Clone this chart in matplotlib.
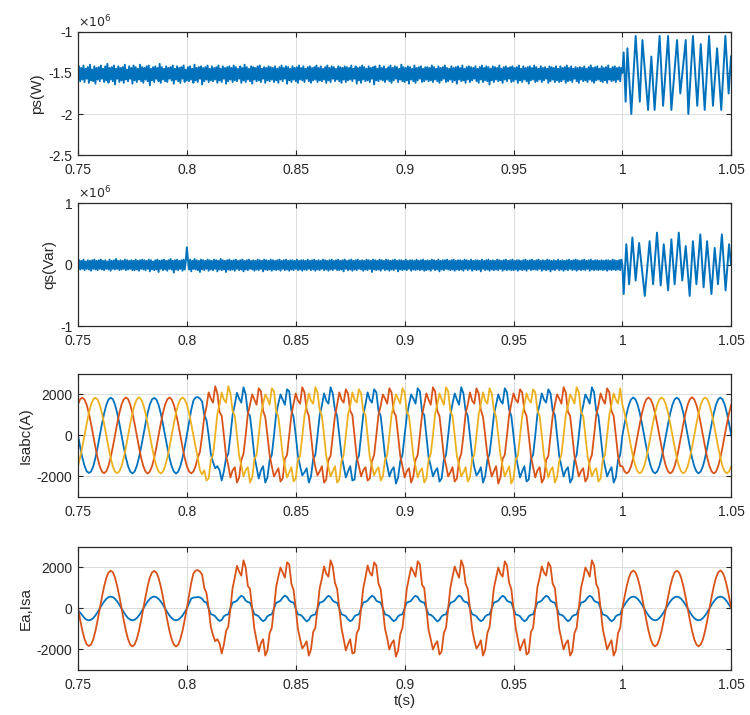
import numpy as np
import matplotlib
matplotlib.use("Agg")
import matplotlib.pyplot as plt

plt.rcParams['font.family'] = ['Liberation Sans', 'DejaVu Sans']

# ---------------- data ----------------
x_ticks = [0.75, 0.8, 0.85, 0.9, 0.95, 1.0, 1.05]
x_ticklabels = ['0.75', '0.8', '0.85', '0.9', '0.95', '1', '1.05']

# ps (units of 1e4 W), 0.5 ms samples from 0.75 s to 1.0 s
ps_pre = [
-151,-142,-160,-144,-158,-141,-161,-145,-157,-143,-162,-140,-159,-146,-160,-142,-163,-144,-158,-143,
-160,-141,-157,-145,-161,-142,-159,-139,-162,-144,-158,-143,-160,-141,-164,-145,-157,-142,-161,-144,
-159,-143,-162,-140,-158,-146,-160,-142,-157,-144,-163,-141,-159,-143,-161,-145,-158,-140,-160,-143,
-162,-144,-158,-142,-160,-141,-165,-145,-159,-143,-161,-142,-157,-144,-160,-139,-162,-143,-158,-145,
-160,-142,-161,-144,-157,-143,-159,-141,-163,-145,-158,-142,-160,-144,-162,-143,-157,-141,-161,-146,
-159,-143,-160,-142,-158,-145,-162,-140,-159,-144,-161,-143,-157,-142,-164,-144,-160,-143,-158,-141,
-161,-145,-159,-142,-160,-144,-158,-143,-162,-141,-159,-145,-161,-142,-157,-144,-163,-143,-160,-142,
-158,-144,-161,-141,-159,-143,-160,-145,-157,-142,-162,-144,-159,-140,-161,-143,-158,-145,-160,-142,
-163,-143,-158,-144,-160,-142,-159,-141,-161,-145,-157,-143,-162,-144,-159,-142,-160,-143,-158,-144,
-161,-142,-159,-145,-162,-143,-158,-141,-160,-144,-157,-142,-163,-143,-159,-145,-161,-142,-158,-144,
-160,-143,-162,-141,-158,-144,-159,-142,-161,-145,-157,-143,-160,-142,-162,-144,-159,-143,-158,-141,
-161,-144,-159,-142,-160,-145,-158,-143,-162,-141,-159,-144,-161,-142,-157,-143,-160,-145,-158,-142,
-160,-143,-162,-144,-158,-142,-161,-143,-159,-144,-158,-141,-160,-145,-157,-142,-163,-144,-159,-143,
-162,-141,-158,-143,-160,-145,-159,-142,-161,-144,-157,-143,-164,-142,-159,-145,-160,-141,-158,-144,
-159,-142,-161,-145,-158,-143,-160,-141,-162,-144,-159,-142,-157,-143,-161,-145,-158,-140,-160,-143,
-161,-144,-159,-142,-163,-143,-158,-145,-160,-141,-162,-144,-159,-143,-157,-142,-161,-145,-160,-143,
-158,-143,-160,-144,-159,-141,-161,-143,-158,-145,-160,-142,-162,-144,-159,-143,-157,-141,-161,-144,
-160,-145,-158,-142,-161,-144,-159,-143,-163,-142,-158,-144,-160,-141,-159,-145,-162,-143,-158,-142,
-161,-143,-159,-144,-157,-142,-160,-145,-162,-143,-158,-141,-161,-144,-159,-142,-160,-143,-164,-145,
-159,-142,-161,-143,-158,-144,-160,-141,-159,-145,-162,-143,-158,-142,-160,-144,-157,-143,-161,-142,
-160,-144,-158,-143,-162,-141,-159,-145,-161,-142,-158,-144,-160,-143,-163,-142,-159,-144,-158,-141,
-161,-143,-160,-145,-158,-142,-161,-144,-159,-143,-157,-145,-162,-142,-160,-143,-158,-144,-161,-142,
-159,-145,-161,-142,-160,-144,-158,-143,-162,-141,-160,-144,-159,-142,-161,-145,-157,-143,-160,-144,
-162,-143,-158,-144,-160,-142,-159,-145,-161,-143,-158,-141,-160,-144,-162,-143,-159,-142,-158,-145,
-160,-142,-161,-144,-159,-143,-162,-141,-158,-145,-160,-143,-159,-142,-161,-144,-158,-143,-160,-144,
-150]
# ps after 1.0 s: extremes (time in s, units of 1e4 W)
ps_post_t = [1.0006,1.0015,1.0023,1.0041,1.0061,1.0080,1.0092,1.0118,1.0133,1.0148,1.0171,1.0187,1.0210,1.0225,1.0251,
             1.0266,1.0291,1.0303,1.0324,1.0344,1.0360,1.0378,1.0398,1.0416,1.0435,1.0454,1.0473,1.0488,1.0499]
ps_post = [-125,-185,-120,-200,-105,-185,-110,-195,-130,-195,-105,-190,-105,-195,-110,
           -175,-110,-200,-105,-190,-115,-195,-105,-190,-120,-195,-105,-175,-130]

# qs (units of 1e4 Var), 0.5 ms samples from 0.75 s to 1.0 s
qs_pre = [
0,7,-8,6,-7,8,-9,5,-7,7,-8,6,-10,7,-7,8,-8,6,-9,7,
-7,8,-8,6,-9,7,-7,5,-8,8,-10,6,-7,7,-8,9,-7,6,-9,7,
-8,6,-7,8,-9,7,-8,6,-7,7,-9,6,-9,8,-8,6,-10,7,-7,8,
-8,7,-9,6,-7,8,-11,7,-8,5,-9,7,-8,8,-12,6,-7,7,-9,8,
-8,6,-10,7,-7,9,-8,6,-13,7,-8,8,-9,6,-7,7,-10,8,-8,6,
28,7,-8,8,-11,6,-7,9,-8,7,-9,6,-12,8,-8,7,-9,6,-7,8,
-10,7,-8,6,-9,8,-7,7,-11,6,-8,9,-9,7,-8,6,-12,7,-8,8,
-9,6,-8,7,-10,8,-7,6,-9,7,-8,8,-11,6,-8,7,-9,8,-7,6,
-8,7,-10,6,-8,8,-9,7,-7,6,-11,8,-8,7,-9,6,-8,8,-10,7,
-8,6,-9,7,-8,8,-10,6,-7,7,-9,8,-8,6,-10,7,-8,7,-9,6,
-7,8,-9,6,-8,7,-10,7,-8,6,-9,8,-7,6,-9,7,-8,8,-10,6,
-8,7,-9,6,-7,8,-9,7,-8,6,-10,7,-8,8,-9,6,-7,7,-9,8,
-9,6,-8,7,-11,8,-7,6,-9,7,-8,8,-10,6,-8,7,-9,8,-7,6,
-8,7,-10,6,-8,8,-9,7,-7,6,-12,8,-8,7,-9,6,-8,8,-10,7,
-7,6,-9,8,-8,7,-10,6,-8,7,-9,8,-7,6,-11,7,-8,7,-9,6,
-8,8,-9,6,-7,7,-10,7,-8,6,-9,8,-8,6,-9,7,-8,8,-10,6,
-9,7,-8,6,-10,8,-7,7,-9,6,-8,8,-11,6,-8,7,-9,7,-7,8,
-8,6,-9,7,-8,8,-10,6,-8,7,-9,7,-8,6,-10,8,-7,7,-9,6,
-7,8,-10,6,-8,7,-9,7,-8,6,-11,8,-7,6,-9,7,-8,8,-10,6,
-8,7,-9,6,-8,8,-9,7,-7,6,-10,7,-8,8,-9,6,-8,7,-9,8,
-9,6,-8,7,-10,7,-8,6,-9,7,-8,8,-10,6,-7,7,-9,8,-8,6,
-8,7,-9,8,-7,6,-10,7,-8,6,-9,8,-8,7,-11,6,-8,7,-9,6,
-7,8,-9,6,-8,7,-10,6,-8,7,-9,8,-7,6,-9,7,-8,8,-10,7,
-8,6,-9,7,-8,8,-9,6,-7,7,-10,8,-8,6,-9,7,-8,7,-9,6,
-8,7,-9,6,-8,7,-10,7,-8,6,-9,8,-8,7,-9,6,-8,7,-9,8,
0]
qs_post_t = [1.0006,1.0018,1.0031,1.0046,1.0061,1.0077,1.0103,1.0125,1.0141,1.0159,1.0176,1.0190,1.0210,1.0225,1.0240,
             1.0259,1.0275,1.0291,1.0309,1.0324,1.0340,1.0358,1.0373,1.0389,1.0409,1.0424,1.0439,1.0457,1.0474,1.0490,1.0499]
qs_post = [-48,33,-32,44,-26,35,-51,38,-32,52,-34,33,-42,41,-32,
           52,-26,30,-51,38,-32,49,-37,38,-48,27,-32,49,-42,33,0]

# stator currents (A), 1 ms samples from 0.75 s to 1.05 s
isa = [
0,-560,-1080,-1490,-1750,-1830,-1760,-1510,-1100,-580,-10,560,1080,1490,1750,1840,1770,1500,1090,580,
10,-570,-1090,-1500,-1770,-1850,-1760,-1490,-1080,-570,0,570,1100,1510,1760,1830,1750,1490,1080,560,
0,-570,-1090,-1500,-1760,-1860,-1770,-1500,-1090,-560,20,650,1250,1700,1850,1870,1800,1650,1000,750,
0,-900,-1300,-1600,-1500,-1700,-2200,-1750,-1100,-900,0,1000,1500,2080,1800,1600,2350,2000,1100,950,
0,-1000,-1550,-2100,-1700,-1500,-2300,-2050,-1200,-950,0,1050,1550,2000,1750,1500,2250,2150,1200,900,
0,-1000,-1500,-1950,-1800,-1600,-2300,-2000,-1150,-950,0,1000,1450,2050,1700,1550,2350,2050,1250,950,
0,-950,-1500,-2050,-1750,-1500,-2200,-2150,-1200,-1000,0,1000,1500,2100,1750,1600,2250,2100,1200,950,
0,-1000,-1450,-2000,-1700,-1550,-2350,-2050,-1250,-950,0,950,1500,2000,1800,1550,2300,2150,1150,1000,
0,-1050,-1500,-2000,-1750,-1600,-2250,-2100,-1200,-950,0,1000,1550,2050,1750,1500,2350,2050,1200,950,
0,-1000,-1550,-1950,-1800,-1550,-2300,-2000,-1200,-900,0,1000,1500,2000,1700,1550,2300,2100,1250,950,
0,-950,-1500,-2050,-1750,-1500,-2250,-2150,-1150,-950,0,1050,1500,2050,1750,1600,2250,2050,1200,1000,
0,-1000,-1500,-2000,-1700,-1550,-2300,-2100,-1200,-950,0,1000,1450,2000,1800,1550,2350,2100,1200,950,
0,-1000,-1500,-2000,-1750,-1550,-2300,-2050,-1200,-950,0,570,1090,1500,1760,1850,1760,1500,1090,570,
0,-570,-1090,-1500,-1760,-1850,-1760,-1500,-1090,-570,0,570,1090,1500,1760,1840,1760,1500,1090,570,
0,-570,-1090,-1500,-1760,-1850,-1760,-1500,-1090,-570,0,570,1090,1500,1760,1850,1760,1500,1090,570,
0]
isb = [
1520,1770,1840,1750,1490,1080,560,-10,-580,-1100,-1510,-1770,-1840,-1750,-1490,-1080,-560,10,580,1100,
1510,1760,1850,1770,1500,1090,570,0,-570,-1090,-1500,-1760,-1860,-1760,-1500,-1090,-570,0,570,1090,
1500,1760,1850,1760,1500,1090,570,0,-570,-1090,-1500,-1760,-1850,-1760,-1500,-1090,-800,0,900,1400,
2100,1800,1600,2400,2050,1150,950,0,-1000,-1450,-2050,-1700,-1550,-2300,-2050,-1200,-900,0,1050,1500,
2000,1750,1500,2300,2150,1200,900,0,-950,-1500,-2000,-1800,-1600,-2250,-2100,-1150,-950,0,1000,1550,
2050,1700,1550,2350,2100,1250,950,0,-1000,-1550,-1950,-1750,-1500,-2300,-2150,-1200,-1000,0,950,1500,
2100,1750,1600,2250,2050,1200,1000,0,-1050,-1500,-2000,-1700,-1550,-2200,-2100,-1250,-950,0,1000,1450,
2000,1800,1550,2300,2100,1150,950,0,-1000,-1500,-2050,-1750,-1600,-2300,-2000,-1200,-950,0,1000,1500,
2050,1750,1500,2350,2150,1200,950,0,-1000,-1450,-2000,-1800,-1550,-2250,-2100,-1200,-900,0,1050,1500,
2100,1700,1550,2300,2050,1250,900,0,-950,-1500,-2000,-1750,-1500,-2350,-2050,-1150,-950,0,1000,1550,
2050,1750,1600,2250,2100,1200,950,0,-1000,-1550,-2050,-1700,-1550,-2300,-2100,-1200,-1000,0,950,1500,
2000,1800,1550,2350,2100,1150,950,0,-1000,-1500,-2000,-1750,-1600,-2250,-2050,-1250,-950,0,1000,1450,
2050,1750,1550,2300,2100,1200,950,0,-1000,-1500,-1500,-1760,-1850,-1760,-1500,-1090,-570,0,570,1090,
1500,1760,1850,1760,1500,1090,570,0,-570,-1090,-1500,-1760,-1850,-1760,-1500,-1090,-570,0,570,1090,
1500,1770,1860,1760,1490,1090,570,0,-570,-1090,-1500,-1760,-1850,-1770,-1500,-1090,-570,0,570,1090,
1500]
isc = [
-1490,-1080,-560,10,580,1100,1510,1770,1840,1750,1490,1080,560,-10,-580,-1100,-1510,-1770,-1840,-1750,
-1500,-1090,-570,0,570,1090,1500,1760,1860,1760,1500,1090,570,0,-570,-1090,-1500,-1760,-1850,-1770,
-1500,-1090,-570,0,570,1090,1500,1760,1850,1760,1500,1090,570,0,-570,-1090,-1700,-1900,-1700,-2200,
-2100,-1200,-950,0,1050,1500,2100,1750,1600,2400,2050,1200,950,0,-1000,-1450,-2000,-1700,-1550,-2300,
-2050,-1150,-950,0,1000,1550,2000,1800,1500,2300,2150,1200,900,0,-950,-1500,-2050,-1800,-1550,-2250,
-2100,-1200,-1000,0,950,1500,2050,1700,1550,2350,2100,1250,950,0,-1000,-1550,-2000,-1750,-1500,-2300,
-2150,-1250,-950,0,1000,1450,2100,1750,1600,2250,2050,1200,1000,0,-1050,-1500,-1950,-1700,-1550,-2200,
-2000,-1200,-950,0,1000,1500,2000,1800,1550,2300,2100,1150,950,0,-1000,-1500,-2050,-1750,-1600,-2300,
-2100,-1200,-900,0,1050,1500,2050,1750,1500,2350,2150,1200,950,0,-1000,-1450,-2000,-1800,-1550,-2250,
-2050,-1150,-950,0,1000,1550,2100,1700,1550,2300,2050,1250,900,0,-950,-1500,-2000,-1750,-1500,-2350,
-2100,-1200,-1000,0,950,1500,2050,1750,1600,2250,2100,1200,950,0,-1000,-1550,-2050,-1700,-1550,-2300,
-2050,-1250,-950,0,1000,1450,2000,1800,1550,2350,2100,1150,950,0,-1000,-1500,-2000,-1750,-1600,-2250,
-2100,-1200,-950,0,1000,1500,2050,1750,1550,2300,1500,1090,570,0,-570,-1090,-1500,-1760,-1850,-1760,
-1500,-1090,-570,0,570,1090,1500,1760,1850,1760,1500,1090,570,0,-570,-1090,-1500,-1760,-1850,-1760,
-1500,-1090,-570,0,570,1090,1500,1760,1850,1770,1500,1090,570,0,-570,-1090,-1500,-1760,-1850,-1760,
-1500]
ea = [
-100,-200,-340,-470,-550,-580,-550,-470,-340,-180,0,180,340,470,550,580,550,470,340,180,
0,-180,-340,-470,-550,-580,-550,-470,-340,-180,0,180,340,470,550,580,550,470,340,180,
0,-180,-340,-470,-550,-580,-550,-470,-340,-180,0,250,480,530,540,560,540,470,330,290,
0,-280,-310,-380,-520,-610,-560,-380,-310,-290,0,290,320,380,520,620,560,380,310,290,
0,-290,-320,-390,-530,-620,-550,-380,-310,-290,0,280,320,380,530,630,560,390,310,290,
0,-290,-310,-380,-520,-630,-560,-370,-320,-290,0,290,310,380,520,620,550,380,310,280,
0,-280,-320,-380,-530,-620,-560,-380,-310,-290,0,290,320,390,520,620,560,380,320,290,
0,-290,-320,-380,-520,-620,-550,-380,-310,-280,0,290,320,380,530,620,560,380,310,290,
0,-290,-310,-390,-520,-630,-560,-380,-310,-290,0,280,310,380,520,630,560,370,310,290,
0,-280,-320,-380,-520,-620,-560,-390,-310,-290,0,290,320,380,520,620,550,380,320,290,
0,-290,-320,-380,-530,-620,-560,-380,-310,-290,0,290,320,390,520,620,560,380,310,280,
0,-290,-310,-380,-520,-620,-550,-380,-320,-290,0,290,310,380,530,620,560,380,310,290,
0,-290,-320,-380,-520,-620,-560,-380,-310,-290,0,180,340,470,550,580,550,470,340,180,
0,-180,-340,-470,-550,-580,-550,-470,-340,-180,0,180,340,470,550,580,550,470,340,180,
0,-180,-340,-470,-550,-580,-550,-470,-340,-180,0,180,340,470,550,580,550,470,340,180,
0]

# ---------------- plotting ----------------
BLUE, ORANGE, YELLOW = '#0072BD', '#D95319', '#EDB120'

t_cur = 0.75 + 0.001 * np.arange(len(isa))
t_ea = 0.75 + 0.001 * np.arange(len(ea))
t_isb = 0.75 + 0.001 * np.arange(len(isb))
t_isc = 0.75 + 0.001 * np.arange(len(isc))
t_ps = np.concatenate([0.75 + 0.0005 * np.arange(len(ps_pre)), ps_post_t])
t_qs = np.concatenate([0.75 + 0.0005 * np.arange(len(qs_pre)), qs_post_t])
ps_all = np.array(ps_pre + ps_post) / 100.0   # -> units of 1e6 W
qs_all = np.array(qs_pre + qs_post) / 100.0   # -> units of 1e6 Var

fig = plt.figure(figsize=(7.5, 7.15), dpi=100)
L, W = 0.104, 0.871
ax1 = fig.add_axes([L, 0.783, W, 0.1725])
ax2 = fig.add_axes([L, 0.544, W, 0.172])
ax3 = fig.add_axes([L, 0.305, W, 0.172])
ax4 = fig.add_axes([L, 0.063, W, 0.172])

TXT = '#262626'


def style(ax, ylim, yticks, yticklabels, ylabel):
    ax.set_xlim(0.75, 1.05)
    ax.set_xticks(x_ticks)
    ax.set_xticklabels(x_ticklabels)
    ax.set_ylim(*ylim)
    ax.set_yticks(yticks)
    ax.set_yticklabels(yticklabels)
    ax.grid(True, color='#dcdcdc', lw=0.7)
    ax.set_axisbelow(True)
    ax.tick_params(direction='in', top=True, right=True, length=3.5, width=0.8,
                   labelsize=10, colors=TXT)
    ax.tick_params(axis='x', pad=6)
    ax.tick_params(axis='y', pad=4)
    for s in ax.spines.values():
        s.set_color('#2a2a2a')
        s.set_linewidth(0.9)
    ax.set_ylabel(ylabel, fontsize=11, color=TXT, labelpad=3)


ax1.plot(t_ps, ps_all, color=BLUE, lw=1.4)
style(ax1, (-2.5, -1.0), [-2.5, -2, -1.5, -1], ['-2.5', '-2', '-1.5', '-1'], 'ps(W)')
ax1.text(0.0, 1.015, r'$\times10^{6}$', transform=ax1.transAxes, fontsize=9,
         color=TXT, ha='left', va='bottom')

ax2.plot(t_qs, qs_all, color=BLUE, lw=1.4)
style(ax2, (-1, 1), [-1, 0, 1], ['-1', '0', '1'], 'qs(Var)')
ax2.text(0.0, 1.015, r'$\times10^{6}$', transform=ax2.transAxes, fontsize=9,
         color=TXT, ha='left', va='bottom')

ax3.plot(t_cur, isa, color=BLUE, lw=1.3)
ax3.plot(t_isb, isb, color=ORANGE, lw=1.3)
ax3.plot(t_isc, isc, color=YELLOW, lw=1.3)
style(ax3, (-3000, 3000), [-2000, 0, 2000], ['-2000', '0', '2000'], 'Isabc(A)')

ax4.plot(t_ea, ea, color=BLUE, lw=1.3)
ax4.plot(t_cur, isa, color=ORANGE, lw=1.3)
style(ax4, (-3000, 3000), [-2000, 0, 2000], ['-2000', '0', '2000'], 'Ea,Isa')
ax4.set_xlabel('t(s)', fontsize=11, color=TXT, labelpad=1)

fig.savefig('out.png', dpi=100)
